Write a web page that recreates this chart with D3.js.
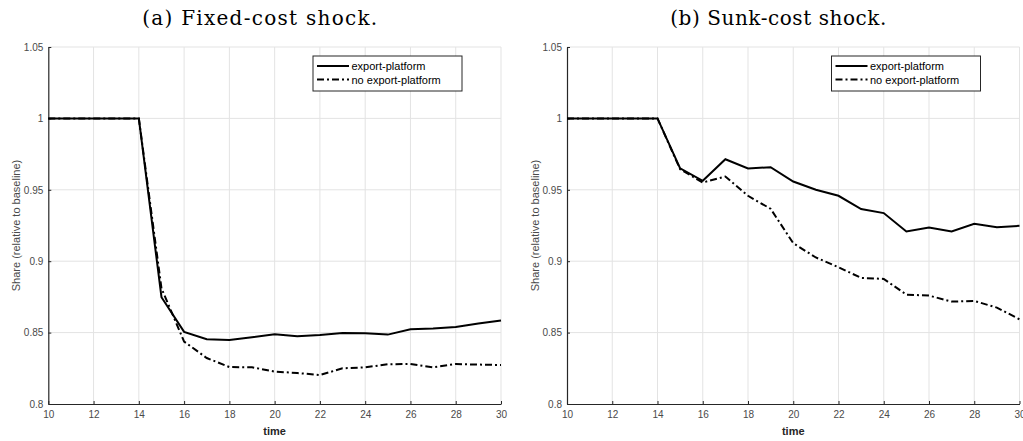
<!DOCTYPE html>
<html>
<head>
<meta charset="utf-8">
<script src="https://cdn.jsdelivr.net/npm/d3@7"></script>
<style>
  body { margin: 0; background: #fff; }
  svg { display: block; }
</style>
</head>
<body>
<div id="chart"></div>
<script>
// time periods shared by both panels
var times = [10, 11, 12, 13, 14, 15, 16, 17, 18, 19, 20, 21, 22, 23, 24, 25, 26, 27, 28, 29, 30];

// (a) fixed-cost shock
var fixed_ep = [1, 1, 1, 1, 1, 0.8748, 0.8505, 0.8453, 0.8449, 0.8467, 0.8488, 0.8474, 0.8484, 0.8498, 0.8495, 0.8486, 0.8523, 0.8528, 0.854, 0.8563, 0.8584];
var fixed_noep = [1, 1, 1, 1, 1, 0.881, 0.8437, 0.8322, 0.8259, 0.8257, 0.8227, 0.8217, 0.8203, 0.825, 0.8257, 0.8278, 0.828, 0.8257, 0.828, 0.8276, 0.8273];

// (b) sunk-cost shock
var sunk_ep = [1, 1, 1, 1, 1, 0.965, 0.9563, 0.9714, 0.965, 0.9658, 0.9558, 0.95, 0.9458, 0.9365, 0.9337, 0.9208, 0.9236, 0.9208, 0.9262, 0.9238, 0.9248];
var sunk_noep = [1, 1, 1, 1, 1, 0.9644, 0.9551, 0.9593, 0.9458, 0.9367, 0.9126, 0.9026, 0.8958, 0.8883, 0.8876, 0.8766, 0.8759, 0.8717, 0.8722, 0.8675, 0.8593];

var x_ticks = [10, 12, 14, 16, 18, 20, 22, 24, 26, 28, 30];
var y_ticks = [0.8, 0.85, 0.9, 0.95, 1, 1.05];
var legend_labels = ["export-platform", "no export-platform"];

var panels = [
    { title: "(a) Fixed-cost shock.", title_w: 235, series: [fixed_ep, fixed_noep], left: 48.3, right: 501 },
    { title: "(b) Sunk-cost shock.", title_w: 216, series: [sunk_ep, sunk_noep], left: 567, right: 1019.5 }
];

var width = 1023;
var height = 441;
var top_y = 47;
var bottom_y = 404;
var dash_styles = [null, "7,3,2,3"];

var svg = d3.select("#chart")
    .append("svg")
    .attr("width", width)
    .attr("height", height);

panels.forEach(function (p) {
    var x_scale = d3.scaleLinear().domain([10, 30]).range([p.left, p.right]);
    var y_scale = d3.scaleLinear().domain([0.8, 1.05]).range([bottom_y, top_y]);
    var g = svg.append("g");

    // title (latex-like serif)
    g.append("text")
        .attr("x", (p.left + p.right) / 2 - 15)
        .attr("y", 25)
        .attr("text-anchor", "middle")
        .attr("font-family", "'DejaVu Serif', serif")
        .attr("font-size", 20)
        .attr("textLength", p.title_w)
        .attr("lengthAdjust", "spacing")
        .attr("fill", "#000")
        .text(p.title);

    // grid
    g.selectAll(".vgrid").data(x_ticks.slice(1))
        .enter().append("line")
        .attr("x1", function (d) { return x_scale(d); })
        .attr("x2", function (d) { return x_scale(d); })
        .attr("y1", top_y)
        .attr("y2", bottom_y)
        .attr("stroke", "#e3e3e3")
        .attr("stroke-width", 1);
    g.selectAll(".hgrid").data(y_ticks.slice(1))
        .enter().append("line")
        .attr("x1", p.left)
        .attr("x2", p.right)
        .attr("y1", function (d) { return y_scale(d); })
        .attr("y2", function (d) { return y_scale(d); })
        .attr("stroke", "#e3e3e3")
        .attr("stroke-width", 1);

    // axes (ticks point inwards like matlab)
    var x_axis = d3.axisBottom(x_scale).tickValues(x_ticks).tickSizeInner(-3).tickSizeOuter(0).tickPadding(7);
    var y_axis = d3.axisLeft(y_scale).tickValues(y_ticks).tickSizeInner(-3).tickSizeOuter(0).tickPadding(5)
        .tickFormat(function (d) { return d3.format("")(+d.toFixed(2)); });

    var gx = g.append("g").attr("transform", "translate(0," + bottom_y + ")").call(x_axis);
    var gy = g.append("g").attr("transform", "translate(" + p.left + ",0)").call(y_axis);
    [gx, gy].forEach(function (a) {
        a.select(".domain").attr("stroke", "#262626").attr("stroke-width", 1.2);
        a.selectAll(".tick line").attr("stroke", "#262626");
        a.selectAll(".tick text")
            .attr("font-family", "'Liberation Sans', Arial, sans-serif")
            .attr("font-size", 10)
            .attr("fill", "#4a4a4a");
    });

    // axis labels
    g.append("text")
        .attr("x", (p.left + p.right) / 2)
        .attr("y", 435)
        .attr("text-anchor", "middle")
        .attr("font-family", "'Liberation Sans', Arial, sans-serif")
        .attr("font-size", 11)
        .attr("font-weight", "bold")
        .attr("fill", "#262626")
        .text("time");
    g.append("text")
        .attr("transform", "translate(" + (p.left - 28) + "," + ((top_y + bottom_y) / 2) + ") rotate(-90)")
        .attr("text-anchor", "middle")
        .attr("font-family", "'Liberation Sans', Arial, sans-serif")
        .attr("font-size", 11)
        .attr("fill", "#4a4a4a")
        .text("Share (relative to baseline)");

    // lines
    var line = d3.line()
        .x(function (d, i) { return x_scale(times[i]); })
        .y(function (d) { return y_scale(d); });
    p.series.slice().reverse().forEach(function (s, k) {
        var idx = p.series.length - 1 - k;
        g.append("path")
            .datum(s)
            .attr("d", line)
            .attr("fill", "none")
            .attr("stroke", "#000")
            .attr("stroke-width", 2)
            .attr("stroke-dasharray", dash_styles[idx]);
    });

    // legend
    var lx = p.right - 188;
    var lg = g.append("g").attr("transform", "translate(" + lx + ",56)");
    lg.append("rect")
        .attr("width", 149)
        .attr("height", 35)
        .attr("fill", "#fff")
        .attr("stroke", "#262626")
        .attr("stroke-width", 1);
    legend_labels.forEach(function (lab, i) {
        var yy = 10 + i * 13.5;
        lg.append("line")
            .attr("x1", 4).attr("x2", 36)
            .attr("y1", yy).attr("y2", yy)
            .attr("stroke", "#000")
            .attr("stroke-width", 2)
            .attr("stroke-dasharray", dash_styles[i]);
        lg.append("text")
            .attr("x", 38.5)
            .attr("y", yy + 4)
            .attr("font-family", "'Liberation Sans', Arial, sans-serif")
            .attr("font-size", 11)
            .attr("fill", "#000")
            .text(lab);
    });
});
</script>
</body>
</html>
